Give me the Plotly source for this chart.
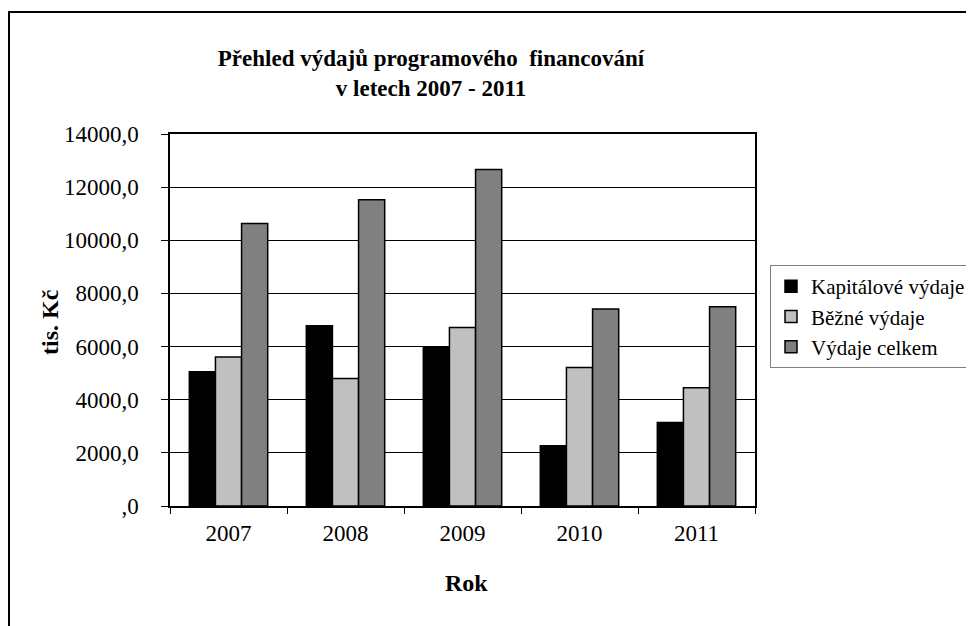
import plotly.graph_objects as go

FONT = "Liberation Serif"

years = ["2007", "2008", "2009", "2010", "2011"]
kapitalove = [5050, 6780, 5980, 2270, 3140]
bezne = [5610, 4800, 6720, 5210, 4450]
celkem = [10630, 11530, 12660, 7410, 7500]

series = [
    ("Kapitálové výdaje", kapitalove, "#000000"),
    ("Běžné výdaje", bezne, "#c0c0c0"),
    ("Výdaje celkem", celkem, "#808080"),
]

tick_vals = [0, 2000, 4000, 6000, 8000, 10000, 12000, 14000]
tick_text = [",0", "2000,0", "4000,0", "6000,0", "8000,0", "10000,0", "12000,0", "14000,0"]

# page body adds an 8px offset, so the layout is shifted up/left by 8
OFF = 8
# plot area in screen pixels
PL, PR, PT, PB = 170, 755, 134, 506
PW, PH = PR - PL, PB - PT


def px_x(x):
    return (x - PL) / PW


def px_y(y):
    return (PB - y) / PH


fig = go.Figure()
for name, vals, color in series:
    fig.add_trace(
        go.Bar(
            x=years,
            y=vals,
            name=name,
            marker=dict(color=color, line=dict(color="#000000", width=1.5)),
        )
    )

fig.update_layout(
    width=974,
    height=626,
    paper_bgcolor="white",
    plot_bgcolor="white",
    font=dict(family=FONT, size=23, color="#000000"),
    margin=dict(l=PL - OFF, r=974 - PR + OFF, t=PT - OFF, b=626 - PB + OFF, autoexpand=False),
    barmode="group",
    bargap=0.33,
    bargroupgap=0,
    title=dict(
        text="<b>Přehled výdajů programového&nbsp; financování</b><br><b>v letech 2007 - 2011</b>",
        x=(431 - OFF) / 974,
        xanchor="center",
        y=1 - (66 - OFF) / 626,
        yanchor="middle",
        font=dict(family=FONT, size=23),
    ),
    legend=dict(
        x=px_x(770),
        y=px_y(265),
        xanchor="left",
        yanchor="top",
        bordercolor="#808080",
        borderwidth=1,
        font=dict(family=FONT, size=21),
        itemwidth=30,
        tracegroupgap=0,
    ),
    showlegend=True,
)

fig.update_xaxes(
    type="category",
    showline=True,
    linecolor="#000000",
    linewidth=1.5,
    mirror=True,
    ticks="outside",
    tickson="boundaries",
    ticklen=6,
    tickcolor="#000000",
    tickfont=dict(size=23),
    ticklabelstandoff=6,
)

fig.update_yaxes(
    range=[0, 14000],
    tickvals=tick_vals,
    ticktext=tick_text,
    showline=True,
    linecolor="#000000",
    linewidth=1.5,
    mirror=True,
    ticks="outside",
    ticklen=7,
    tickcolor="#000000",
    showgrid=True,
    gridcolor="#000000",
    gridwidth=1,
    zeroline=False,
    tickfont=dict(size=23),
    ticklabelstandoff=18,
)

# axis titles
fig.add_annotation(
    text="<b>tis. Kč</b>",
    xref="paper", yref="paper",
    x=px_x(50), y=px_y(322),
    xanchor="center", yanchor="middle",
    textangle=-90,
    showarrow=False,
    font=dict(family=FONT, size=24),
)
fig.add_annotation(
    text="<b>Rok</b>",
    xref="paper", yref="paper",
    x=px_x(466), y=px_y(583),
    xanchor="center", yanchor="middle",
    showarrow=False,
    font=dict(family=FONT, size=24),
)

# outer chart frame (cut off on the right and bottom in the original)
fig.add_shape(
    type="rect",
    xref="paper",
    yref="paper",
    x0=px_x(1 + OFF),
    y0=px_y(12),
    x1=px_x(990),
    y1=px_y(640),
    line=dict(color="#000000", width=2),
    fillcolor="rgba(0,0,0,0)",
    layer="below",
)

fig.write_html("out.html")
